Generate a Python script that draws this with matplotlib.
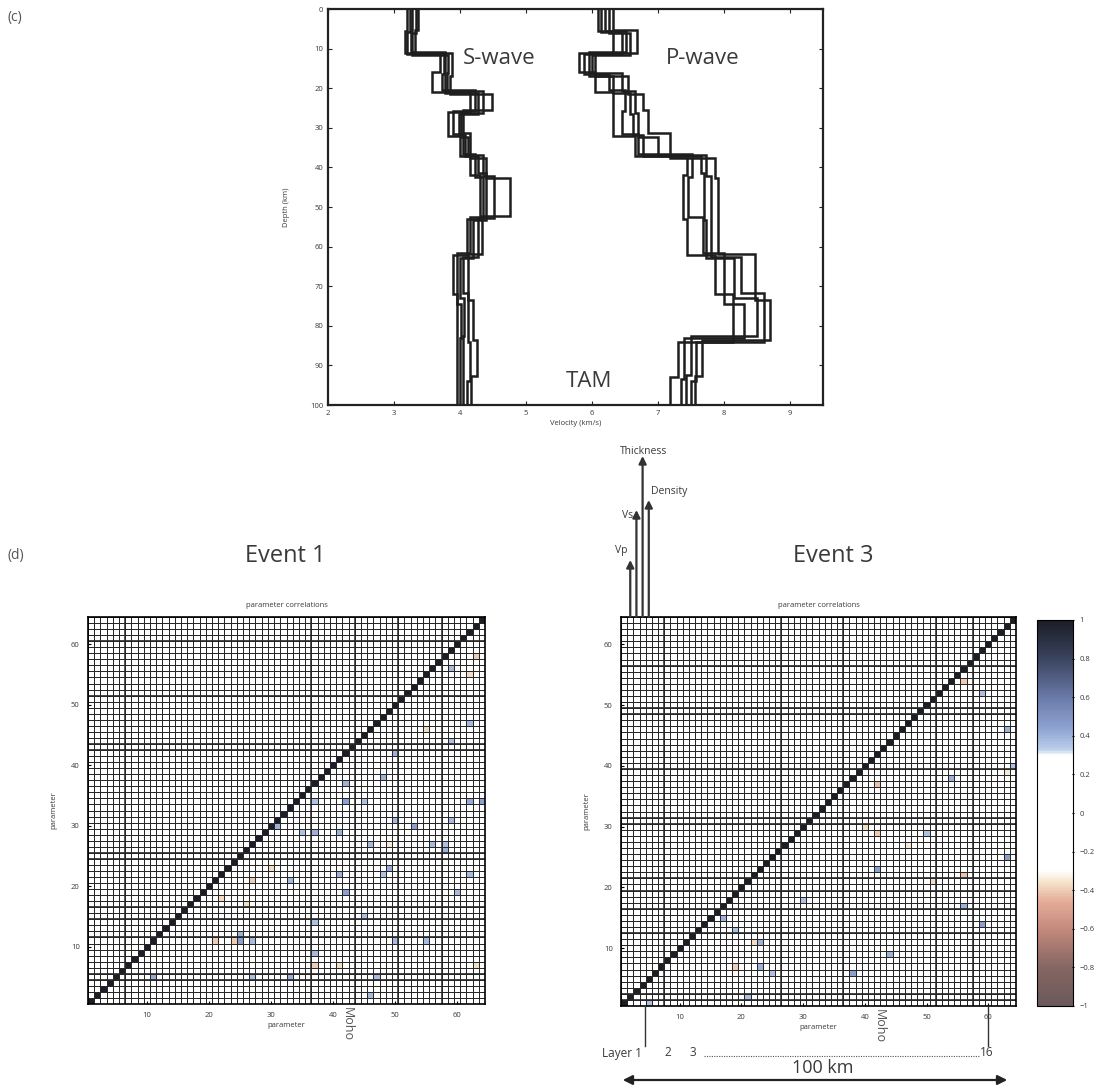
import numpy as np
import matplotlib
matplotlib.use("Agg")
import matplotlib.pyplot as plt
from matplotlib.colors import LinearSegmentedColormap

W, H = 1099, 1089

# (c) velocity models: layer boundaries (km) for each of the 5 models
DEPTHS = [
    [0, 5.5, 11.0, 16.0, 21.0, 26.0, 32.0, 37.0, 42.0, 53.0, 62.0, 72.0, 84.0, 93.0, 100],
    [0, 5.8, 11.3, 16.5, 20.5, 25.8, 31.5, 36.5, 42.5, 52.5, 61.5, 74.5, 83.0, 93.5, 100],
    [0, 5.6, 10.8, 17.0, 21.2, 26.5, 31.8, 37.2, 41.5, 53.2, 63.0, 73.0, 82.5, 92.5, 100],
    [0, 6.0, 11.5, 16.2, 20.8, 26.2, 32.3, 36.8, 42.2, 52.8, 62.5, 71.8, 84.2, 94.0, 100],
    [0, 5.3, 11.1, 16.8, 21.5, 25.5, 31.2, 37.5, 42.8, 52.2, 61.8, 73.5, 83.5, 92.8, 100],
]
# S-wave velocity (km/s) per layer
VS = [
    [3.20, 3.17, 3.70, 3.58, 4.15, 3.82, 4.00, 4.15, 4.30, 4.10, 3.90, 3.95, 3.95, 3.95],
    [3.24, 3.20, 3.75, 3.72, 4.22, 3.90, 4.05, 4.22, 4.35, 4.15, 3.95, 4.02, 4.00, 4.00],
    [3.28, 3.25, 3.78, 3.78, 4.28, 3.98, 4.08, 4.28, 4.40, 4.20, 4.00, 4.06, 4.05, 4.04],
    [3.33, 3.28, 3.82, 3.80, 4.35, 4.02, 4.12, 4.35, 4.52, 4.28, 4.05, 4.12, 4.15, 4.10],
    [3.36, 3.32, 3.88, 3.85, 4.48, 4.05, 4.15, 4.40, 4.75, 4.33, 4.12, 4.20, 4.26, 4.16],
]
# P-wave velocity (km/s) per layer
VP = [
    [6.09, 6.32, 5.80, 6.05, 6.32, 6.32, 6.65, 7.44, 7.38, 7.44, 7.86, 8.14, 7.30, 7.18],
    [6.14, 6.45, 5.88, 6.25, 6.50, 6.45, 6.70, 7.52, 7.45, 7.68, 8.00, 8.30, 7.40, 7.35],
    [6.20, 6.52, 5.95, 6.32, 6.58, 6.62, 6.78, 7.65, 7.70, 7.72, 8.15, 8.50, 7.50, 7.42],
    [6.26, 6.58, 6.00, 6.45, 6.65, 6.70, 7.00, 7.72, 7.80, 7.80, 8.25, 8.60, 7.58, 7.50],
    [6.32, 6.68, 6.05, 6.55, 6.77, 6.85, 7.18, 7.86, 7.91, 7.91, 8.47, 8.70, 7.67, 7.56],
]
VEL_TICKS = [2, 3, 4, 5, 6, 7, 8, 9]
DEPTH_TICKS = [0, 10, 20, 30, 40, 50, 60, 70, 80, 90, 100]

# (d) parameter correlation matrices: off-diagonal cells (column, row, value)
N_PARAM = 64
EVENT1_CELLS = [
    (42, 37, 0.4), (42, 34, 0.45), (45, 34, 0.36), (48, 38, 0.4), (37, 34, 0.36),
    (31, 30, 0.4), (35, 29, 0.36), (37, 29, 0.4), (41, 29, 0.4), (50, 31, 0.38),
    (53, 30, 0.45), (59, 31, 0.38), (62, 34, 0.42), (64, 34, 0.45), (46, 27, 0.38),
    (49, 23, 0.42), (48, 22, 0.36), (41, 22, 0.4), (42, 19, 0.45), (33, 21, 0.38),
    (25, 11, 0.45), (25, 12, 0.4), (27, 11, 0.38), (11, 5, 0.42), (33, 5, 0.4),
    (27, 5, 0.36), (47, 5, 0.38), (55, 11, 0.38), (60, 19, 0.38), (62, 22, 0.38),
    (62, 47, 0.38), (59, 44, 0.36), (50, 42, 0.4), (59, 56, 0.38), (58, 26, 0.4),
    (58, 27, 0.36), (56, 27, 0.38), (46, 2, 0.38), (37, 9, 0.38), (37, 14, 0.36),
    (45, 15, 0.36), (50, 11, 0.38),
    (27, 21, -0.4), (21, 11, -0.4), (30, 23, -0.37), (37, 7, -0.4), (41, 7, -0.37),
    (55, 46, -0.37), (63, 58, -0.4), (62, 55, -0.37), (22, 18, -0.37), (26, 17, -0.37),
    (49, 27, -0.35), (63, 7, -0.37), (24, 11, -0.4),
]
EVENT3_CELLS = [
    (63, 46, 0.4), (54, 38, 0.4), (50, 29, 0.36), (63, 25, 0.45), (42, 23, 0.45),
    (56, 17, 0.4), (59, 14, 0.45), (44, 9, 0.4), (38, 6, 0.45), (23, 7, 0.4),
    (25, 6, 0.36), (23, 11, 0.4), (17, 15, 0.4), (19, 13, 0.36), (30, 18, 0.36),
    (59, 52, 0.36), (64, 40, 0.36), (5, 1, 0.36), (21, 2, 0.36),
    (42, 37, -0.42), (42, 29, -0.4), (40, 30, -0.37), (56, 22, -0.42), (51, 21, -0.37),
    (56, 54, -0.4), (19, 7, -0.4), (22, 11, -0.37), (47, 27, -0.35), (63, 39, -0.35),
]
PARAM_TICKS = [10, 20, 30, 40, 50, 60]
CBAR_TICKS = [-1, -0.8, -0.6, -0.4, -0.2, 0, 0.2, 0.4, 0.6, 0.8, 1]
ARROW_LABELS = ["Vp", "Vs", "Thickness", "Density"]

TXT = "#3a3a3a"
plt.rcParams["font.family"] = ["Open Sans", "DejaVu Sans"]


def box(l, t, r, b):
    return [l / W, 1 - b / H, (r - l) / W, (b - t) / H]


def ftxt(x, y, s, **kw):
    kw.setdefault("color", TXT)
    kw.setdefault("va", "center")
    fig.text(x / W, 1 - y / H, s, **kw)


cmap = LinearSegmentedColormap.from_list("corr", [
    (0.0, "#6b595b"), (0.1, "#866663"), (0.2, "#c48a7c"), (0.27, "#e4ad98"),
    (0.32, "#f6e4cc"), (0.35, "#ffffff"), (0.65, "#ffffff"), (0.665, "#bccfeb"),
    (0.72, "#8ea3d2"), (0.8, "#6a79a8"), (0.9, "#3b4460"), (1.0, "#1b1e27"),
])

fig = plt.figure(figsize=(W / 100, H / 100), dpi=100)

# ---------------- (c) velocity profiles ----------------
ax = fig.add_axes(box(328, 9, 823, 405))
for d, s, p in zip(DEPTHS, VS, VP):
    ax.stairs(s, d, orientation="horizontal", baseline=None, color="#1e1e1e", lw=1.8)
    ax.stairs(p, d, orientation="horizontal", baseline=None, color="#1e1e1e", lw=1.8)
ax.set_xlim(2, 9.5)
ax.set_ylim(100, 0)
ax.set_xticks(VEL_TICKS)
ax.set_yticks(DEPTH_TICKS)
ax.tick_params(direction="in", length=3, labelsize=5.5, top=True, right=True,
               colors="#222", labelcolor=TXT)
for sp in ax.spines.values():
    sp.set_linewidth(1.6)
    sp.set_color("#222")
ax.set_xlabel("Velocity (km/s)", fontsize=5.5, color=TXT, labelpad=2)
ax.set_ylabel("Depth (km)", fontsize=5.5, color=TXT, labelpad=14)
ax.text(4.05, 12.5, "S-wave", fontsize=16, va="center", color=TXT)
ax.text(7.12, 12.5, "P-wave", fontsize=16, va="center", color=TXT)
ax.text(5.95, 94, "TAM", fontsize=16, va="center", ha="center", color=TXT)
ftxt(8, 18, "(c)", fontsize=10, color="#555")


# ---------------- (d) correlation matrices ----------------
def corr_panel(rect, cells, thick_h, thick_v):
    a = fig.add_axes(box(*rect))
    m = np.zeros((N_PARAM, N_PARAM))
    np.fill_diagonal(m, 1.0)
    for c, r, v in cells:
        m[r - 1, c - 1] = v
    edges = np.arange(0.5, N_PARAM + 1)
    mesh = a.pcolormesh(edges, edges, m, cmap=cmap, vmin=-1, vmax=1,
                        edgecolors="#262626", linewidth=0.6)
    for y in thick_h:
        a.axhline(y, color="#262626", lw=1.2)
    for x in thick_v:
        a.axvline(x, color="#262626", lw=1.1)
    a.set_xlim(0.5, N_PARAM + 0.5)
    a.set_ylim(0.5, N_PARAM + 0.5)
    a.set_xticks(PARAM_TICKS)
    a.set_yticks(PARAM_TICKS)
    a.tick_params(direction="in", length=2, labelsize=5.5, labelcolor=TXT, pad=6)
    for sp in a.spines.values():
        sp.set_linewidth(1.2)
    a.set_title("parameter correlations", fontsize=5.5, color=TXT, pad=7)
    a.set_xlabel("parameter", fontsize=5.5, color=TXT, labelpad=2)
    a.set_ylabel("parameter", fontsize=5.5, color=TXT, labelpad=10)
    a.text(42.3, 0.0, "Moho", rotation=-90, fontsize=9, color="#555",
           ha="center", va="top", clip_on=False)
    return a, mesh


ax1, _ = corr_panel((88, 617, 485, 1004), EVENT1_CELLS,
                    [4.5, 5.5, 11.5, 14.5, 16.5, 24.5, 25.5, 42.5, 43.5, 51.5, 60.5],
                    [6.5, 36.5, 43.5, 50.5, 57.5])
ax3, mesh = corr_panel((621, 617, 1016, 1006), EVENT3_CELLS,
                       [1.5, 2.5, 12.5, 16.5, 19.5, 21.5, 30.5, 31.5, 39.5, 48.5, 49.5, 56.5],
                       [7.5, 26.5, 36.5, 51.5, 57.5])
ftxt(285, 556, "Event 1", fontsize=17, ha="center")
ftxt(833, 556, "Event 3", fontsize=17, ha="center")
ftxt(8, 556, "(d)", fontsize=10, color="#555")

# colour bar
cax = fig.add_axes(box(1037, 620, 1073, 1006))
cb = fig.colorbar(mesh, cax=cax, ticks=CBAR_TICKS)
cb.ax.set_yticklabels(["\u22121", "\u22120.8", "\u22120.6", "\u22120.4", "\u22120.2", "0",
                       "0.2", "0.4", "0.6", "0.8", "1"])
cb.ax.tick_params(labelsize=5.5, length=2, direction="inout", labelcolor=TXT)
cb.outline.set_linewidth(0.8)

# parameter-type arrows above the first layer of Event 3
arrow_tops = [560, 510, 456, 500]
for k, top in enumerate(arrow_tops):
    ax3.annotate("", xy=(k + 2, H - top), xytext=(k + 2, H - 617),
                 xycoords=("data", "figure pixels"), textcoords=("data", "figure pixels"),
                 arrowprops=dict(arrowstyle="-|>", lw=1.6, color="#333",
                                 mutation_scale=11, shrinkA=0, shrinkB=0),
                 annotation_clip=False)
ftxt(621, 551, ARROW_LABELS[0], fontsize=7.5, ha="center")
ftxt(628, 516, ARROW_LABELS[1], fontsize=7.5, ha="center")
ftxt(644, 451, ARROW_LABELS[2], fontsize=7.5, ha="center")
ftxt(669, 491, ARROW_LABELS[3], fontsize=7.5, ha="center")

# layer annotation below Event 3
fig.add_artist(plt.Line2D([645 / W, 645 / W], [1 - 1006 / H, 1 - 1046 / H], color="#333", lw=1.0))
fig.add_artist(plt.Line2D([988 / W, 988 / W], [1 - 1006 / H, 1 - 1046 / H], color="#333", lw=1.0))
ftxt(602, 1053, "Layer 1", fontsize=8.5)
ftxt(668, 1053, "2", fontsize=8.5, ha="center")
ftxt(693, 1053, "3", fontsize=8.5, ha="center")
fig.add_artist(plt.Line2D([704 / W, 979 / W], [1 - 1056 / H, 1 - 1056 / H], color="#555",
                          lw=0.8, ls=(0, (1, 1.2))))
ftxt(980, 1053, "16", fontsize=8.5)
ftxt(823, 1068, "100 km", fontsize=13, ha="center")
fig.add_artist(matplotlib.patches.FancyArrowPatch(
    (620 / W, 1 - 1080 / H), (1010 / W, 1 - 1080 / H), transform=fig.transFigure,
    arrowstyle="<|-|>", mutation_scale=14, lw=1.6, color="#222"))

fig.savefig("out.png", dpi=100, facecolor="white")
